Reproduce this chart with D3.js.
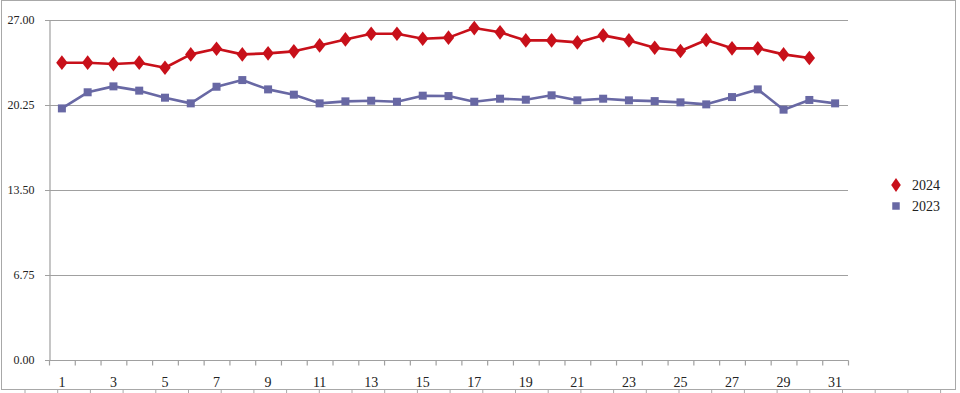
<!DOCTYPE html>
<html>
<head>
<meta charset="utf-8">
<script src="https://cdn.jsdelivr.net/npm/d3@7"></script>
<style>
  html, body { margin: 0; padding: 0; background: #fff; }
  svg { display: block; }
  svg text { font-family: "Liberation Serif", "DejaVu Serif", serif; }
</style>
</head>
<body>
<svg id="chart" width="960" height="393"></svg>
<script>
const days = d3.range(1, 32).map(String);
const series2024 = [23.61, 23.61, 23.50, 23.61, 23.21, 24.27, 24.72, 24.27, 24.35, 24.51,
  24.98, 25.46, 25.91, 25.91, 25.51, 25.60, 26.36, 26.02, 25.38, 25.38,
  25.22, 25.78, 25.38, 24.80, 24.54, 25.41, 24.75, 24.75, 24.27, 23.98];
const series2023 = [19.98, 21.26, 21.73, 21.39, 20.83, 20.38, 21.70, 22.23, 21.49, 21.07,
  20.38, 20.54, 20.59, 20.51, 20.99, 20.96, 20.51, 20.75, 20.67, 21.02,
  20.62, 20.75, 20.62, 20.56, 20.46, 20.30, 20.88, 21.49, 19.88, 20.65, 20.38];
const yTicks = [0, 6.75, 13.5, 20.25, 27];
const seriesNames = ["2024", "2023"];

const svg = d3.select("#chart");
const m = { left: 49, right: 848, top: 20, bottom: 360 };

// outer frame (screenshot border)
const frame = svg.append("g").attr("stroke", "#a8a8a8").attr("fill", "none");
frame.append("rect").attr("x", 1.5).attr("y", 0.5).attr("width", 954).attr("height", 389);
frame.selectAll("line.ft").data(d3.range(0, 29)).join("line")
  .attr("x1", i => 25 + i * 32.7).attr("x2", i => 25 + i * 32.7)
  .attr("y1", 389).attr("y2", 393);

const x = d3.scaleBand().domain(days).range([m.left, m.right]).padding(0);
const y = d3.scaleLinear().domain([0, 27]).range([m.bottom, m.top]);
const cx = d => x(d) + x.bandwidth() / 2;

// gridlines
svg.append("g").selectAll("line").data(yTicks.filter(t => t > 0)).join("line")
  .attr("x1", m.left - 4).attr("x2", m.right)
  .attr("y1", d => Math.round(y(d)) + 0.5).attr("y2", d => Math.round(y(d)) + 0.5)
  .attr("stroke", "#a0a0a0").attr("stroke-width", 1.2);

// y axis
const yAxis = d3.axisLeft(y).tickValues(yTicks).tickFormat(d3.format(".2f")).tickSize(4).tickPadding(11);
const gy = svg.append("g").attr("transform", `translate(${m.left + 0.5},0)`).call(yAxis);
gy.attr("font-family", null);
gy.select(".domain").attr("stroke", "#a0a0a0").attr("stroke-width", 1.2);
gy.selectAll(".tick line").attr("stroke", "#a0a0a0");
gy.selectAll(".tick text").attr("font-size", 12).attr("fill", "#222");

// x axis
const gx = svg.append("g").attr("transform", `translate(0,${m.bottom + 0.5})`);
gx.append("line").attr("x1", m.left - 4).attr("x2", m.right + 0.5).attr("y1", 0).attr("y2", 0)
  .attr("stroke", "#a0a0a0").attr("stroke-width", 1.2);
const bounds = days.map(d => x(d)).concat([m.right]);
gx.selectAll("line.tk").data(bounds).join("line").attr("class", "tk")
  .attr("x1", d => d + 0.5).attr("x2", d => d + 0.5).attr("y1", 0).attr("y2", 5)
  .attr("stroke", "#a0a0a0").attr("stroke-width", 1.2);
gx.selectAll("text").data(days.filter((d, i) => i % 2 === 0)).join("text")
  .attr("x", d => cx(d)).attr("y", 26)
  .attr("text-anchor", "middle")
  .attr("font-size", 14).attr("fill", "#222")
  .text(d => d);

// lines
const colors = { "2024": "#c8101a", "2023": "#6868a4" };
const line = d3.line().x((v, i) => cx(days[i])).y(v => y(v));

function drawSeries(vals, name, shape) {
  const g = svg.append("g");
  g.append("path").datum(vals).attr("d", line)
    .attr("fill", "none").attr("stroke", colors[name]).attr("stroke-width", 2.6)
    .attr("stroke-linejoin", "round");
  const sym = d3.symbol().type(shape === "diamond" ? d3.symbolDiamond : d3.symbolSquare)
    .size(shape === "diamond" ? 62 : 64);
  g.selectAll("path.pt").data(vals).join("path").attr("class", "pt")
    .attr("transform", (v, i) => `translate(${cx(days[i])},${y(v)})` + (shape === "diamond" ? " scale(1.35,1)" : ""))
    .attr("d", sym).attr("fill", colors[name]);
}
drawSeries(series2023, "2023", "square");
drawSeries(series2024, "2024", "diamond");

// legend
const lg = svg.append("g");
const legendItems = [
  { name: seriesNames[0], shape: "diamond", y: 185 },
  { name: seriesNames[1], shape: "square", y: 206 }
];
legendItems.forEach(it => {
  lg.append("path")
    .attr("transform", `translate(896,${it.y})` + (it.shape === "diamond" ? " scale(1.2,1)" : ""))
    .attr("d", d3.symbol().type(it.shape === "diamond" ? d3.symbolDiamond : d3.symbolSquare).size(it.shape === "diamond" ? 56 : 56))
    .attr("fill", colors[it.name]);
  lg.append("text").attr("x", 912).attr("y", it.y).attr("dy", "0.35em")
    .attr("font-size", 14).attr("fill", "#222").text(it.name);
});
</script>
</body>
</html>
